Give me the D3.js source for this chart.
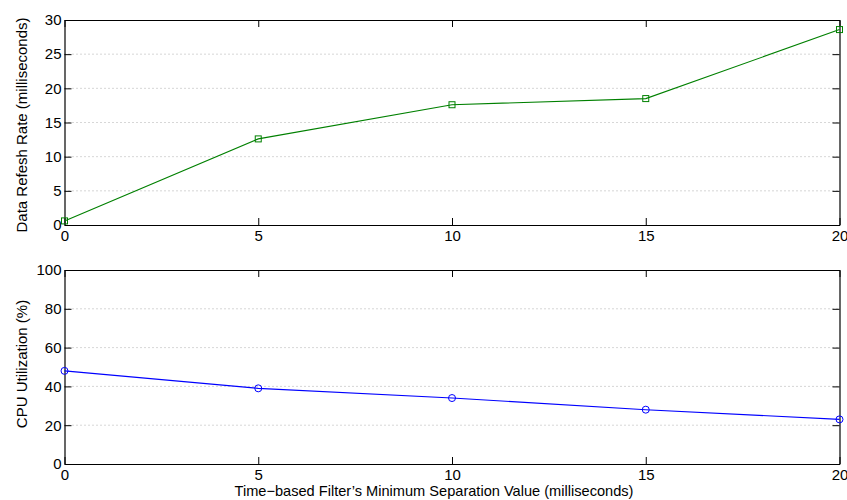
<!DOCTYPE html>
<html><head><meta charset="utf-8">
<script src="https://cdn.jsdelivr.net/npm/d3@7"></script>
<style>body{margin:0;background:#fff}svg{display:block}text{font-family:"Liberation Sans",Arial,sans-serif}</style>
</head><body>
<script>
const xValues = [0, 5, 10, 15, 20];
const refreshRate = [0.6, 12.6, 17.6, 18.5, 28.6];
const cpuUtil = [48, 39, 34, 28, 23];
const xTicks = [0, 5, 10, 15, 20];
const topYTicks = [0, 5, 10, 15, 20, 25, 30];
const botYTicks = [0, 20, 40, 60, 80, 100];

const W = 847, H = 500;
const svg = d3.select("body").append("svg").attr("width", W).attr("height", H);
const L = 64.5, R = 839.5;
const x = d3.scaleLinear().domain([0, 20]).range([L, R]);

function panel(top, bottom, yDomain, yTicks, data, color, marker, ylabel, labelCenter) {
  const y = d3.scaleLinear().domain(yDomain).range([bottom, top]);
  const g = svg.append("g");
  g.selectAll("line.grid").data(yTicks.filter(t => t !== yDomain[0] && t !== yDomain[1])).enter()
    .append("line").attr("x1", L).attr("x2", R).attr("y1", d => y(d)).attr("y2", d => y(d))
    .attr("stroke", "#999").attr("stroke-width", 0.8).attr("stroke-dasharray", "1,3");
  const ax = g.append("g").attr("transform", `translate(0,${bottom})`)
    .call(d3.axisBottom(x).tickValues(xTicks).tickSizeInner(-7).tickSizeOuter(0).tickPadding(5));
  const axT = g.append("g").attr("transform", `translate(0,${top})`)
    .call(d3.axisTop(x).tickValues(xTicks).tickSizeInner(-7).tickSizeOuter(0).tickFormat(""));
  const ay = g.append("g").attr("transform", `translate(${L},0)`)
    .call(d3.axisLeft(y).tickValues(yTicks).tickSizeInner(-7).tickSizeOuter(0).tickPadding(3));
  const ayR = g.append("g").attr("transform", `translate(${R},0)`)
    .call(d3.axisRight(y).tickValues(yTicks).tickSizeInner(-7).tickSizeOuter(0).tickFormat(""));
  [ax, axT, ay, ayR].forEach(a => {
    a.select(".domain").attr("stroke", "#000").attr("stroke-width", 1.2);
    a.selectAll(".tick line").attr("stroke", "#000");
    a.selectAll(".tick text").attr("font-size", 15).attr("fill", "#000")
      .style("font-family", '"Liberation Sans",Arial,sans-serif');
  });
  ax.selectAll(".tick text").attr("dy", "0.75em");
  ay.selectAll(".tick text").attr("dy", "0.32em");
  const line = d3.line().x((d, i) => x(xValues[i])).y(d => y(d));
  g.append("path").datum(data).attr("d", line).attr("fill", "none").attr("stroke", color).attr("stroke-width", 1.1);
  if (marker === "square") {
    g.selectAll("rect.m").data(data).enter().append("rect")
      .attr("x", (d, i) => x(xValues[i]) - 3).attr("y", d => y(d) - 3).attr("width", 6).attr("height", 6)
      .attr("fill", "none").attr("stroke", color).attr("stroke-width", 1);
  } else {
    g.selectAll("circle.m").data(data).enter().append("circle")
      .attr("cx", (d, i) => x(xValues[i])).attr("cy", d => y(d)).attr("r", 3.5)
      .attr("fill", "none").attr("stroke", color).attr("stroke-width", 1);
  }
  svg.append("text").attr("transform", `translate(27,${labelCenter}) rotate(-90)`)
    .attr("text-anchor", "middle").attr("font-size", 15).text(ylabel);
}

panel(20, 225, [0, 30], topYTicks, refreshRate, "#008000", "square", "Data Refesh Rate (milliseconds)", 125);
panel(270, 464, [0, 100], botYTicks, cpuUtil, "#0000ff", "circle", "CPU Utilization (%)", 364);

svg.append("text").attr("x", 434).attr("y", 496).attr("text-anchor", "middle")
  .attr("font-size", 14.6).text("Time\u2212based Filter\u2019s Minimum Separation Value (milliseconds)");
</script>
</body></html>
